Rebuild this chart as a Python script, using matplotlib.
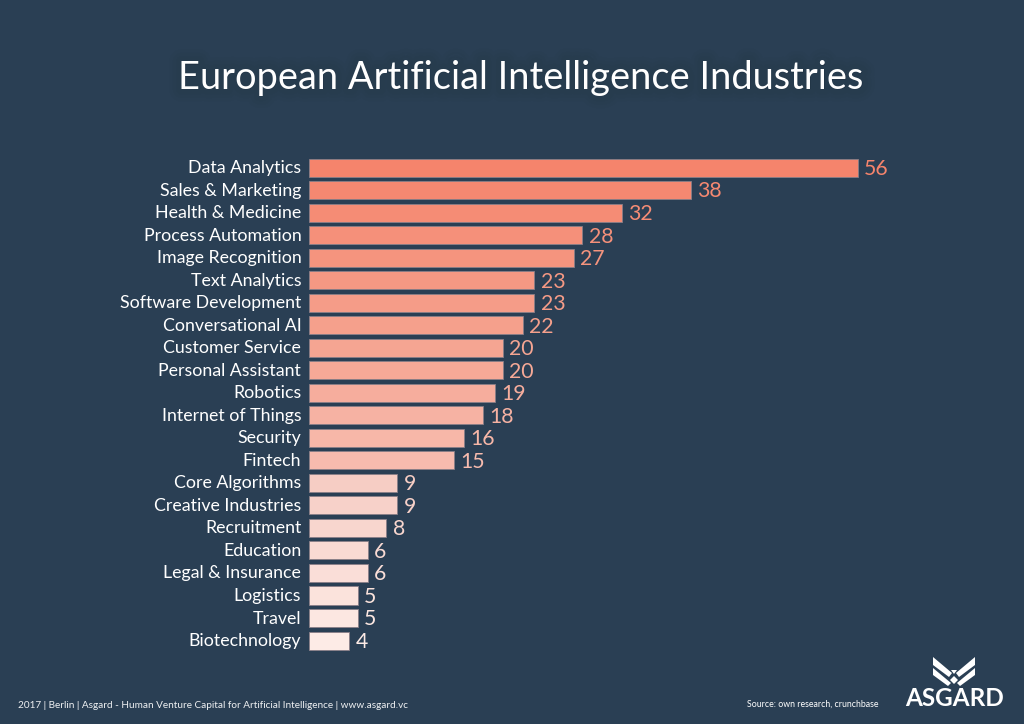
import matplotlib
matplotlib.use("Agg")
import matplotlib.patheffects as pe
import matplotlib.pyplot as plt
from matplotlib.colors import LinearSegmentedColormap
from matplotlib.patches import Polygon
from matplotlib.transforms import ScaledTranslation

W, H = 1024, 724
BG = "#2A3F54"
TEXT = "#FFFFFF"
TITLE = "European Artificial Intelligence Industries"

industries = [
    "Data Analytics", "Sales & Marketing", "Health & Medicine",
    "Process Automation", "Image Recognition", "Text Analytics",
    "Software Development", "Conversational AI", "Customer Service",
    "Personal Assistant", "Robotics", "Internet of Things", "Security",
    "Fintech", "Core Algorithms", "Creative Industries", "Recruitment",
    "Education", "Legal & Insurance", "Logistics", "Travel", "Biotechnology",
]
counts = [56, 38, 32, 28, 27, 23, 23, 22, 20, 20, 19, 18, 16, 15, 9, 9, 8, 6, 6, 5, 5, 4]
# bar lengths as measured: the picture draws them slightly off their labels (Sales & Marketing most)
bar_lengths = [56, 39, 31.9, 27.9, 27, 23, 23, 21.8, 19.8, 19.8, 19, 17.8, 15.8, 14.8, 9, 9, 7.9, 6, 6, 5, 5, 4.1]

plt.rcParams["font.family"] = ["Lato", "DejaVu Sans"]

fig = plt.figure(figsize=(W / 100, H / 100), dpi=100, facecolor=BG)

# bars start at x=309, 9.8 px per company; rows are 22.52 px apart
ax = fig.add_axes([309 / W, 1 - 651.8 / H, (W - 309) / W, (651.8 - 156.3) / H], facecolor="none")
ax.set_xlim(0, (W - 309) / 9.8)
ax.set_ylim(len(counts) - 0.5, -0.5)

ramp = LinearSegmentedColormap.from_list(
    "salmon",
    [(0, "#F5846C"), (0.33, "#F5A08C"), (0.62, "#F7BBAE"), (0.667, "#F6CDC4"), (1, "#FDEBE6")],
)
rows = range(len(counts))
bar_colors = [ramp(i / (len(counts) - 1)) for i in rows]
ax.barh(rows, bar_lengths, height=0.8, color=bar_colors, edgecolor="#8A7F88", linewidth=0.6)

ax.set_yticks(list(rows), industries, fontsize=12.75, color=TEXT)
ax.tick_params(axis="y", length=0, pad=5.5)
ax.set_xticks([])
for spine in ax.spines.values():
    spine.set_visible(False)

# nudge the category labels up a pixel
nudge = ScaledTranslation(0, 1 / 100, fig.dpi_scale_trans)
for label in ax.get_yticklabels():
    label.set_transform(label.get_transform() + nudge)

for i, value in enumerate(counts):
    ax.annotate(
        str(value), (bar_lengths[i], i), xytext=(4.5, -1), textcoords="offset points",
        va="center", ha="left", fontsize=15.3, color=bar_colors[i],
    )


def px(x, y):
    return x / W, 1 - y / H


# soft shadow behind the title, drawn separately so the title itself stays thin
glow = [pe.withStroke(linewidth=w, foreground="#1E2C3A", alpha=0.05) for w in (18, 13, 8)]
fig.text(*px(521, 78), TITLE, ha="center", va="center", fontsize=27.4, color="none", path_effects=glow)
fig.text(*px(521, 78), TITLE, ha="center", va="center", fontsize=27.4, color=TEXT)

fig.text(*px(18, 705), "2017 | Berlin | Asgard - Human Venture Capital for Artificial Intelligence | www.asgard.vc",
         ha="left", va="center", fontsize=7.2, color="#EEF0F2")
fig.text(*px(747, 704), "Source: own research, crunchbase", ha="left", va="center", fontsize=6.35, color=TEXT)
fig.text(*px(954.5, 699), "ASGARD", ha="center", va="center", fontsize=17.5, fontweight="bold", color=TEXT)

# logo wings, mirrored about x=954
LOGO_AXIS = 954
left_wing = [
    [(933, 657), (952, 673), (949, 677), (933, 665)],
    [(933, 668), (951, 683), (948, 686), (933, 675)],
]
logo_shapes = left_wing + [[(2 * LOGO_AXIS - x, y) for x, y in s] for s in left_wing] + [
    [(954, 676), (958, 680), (954, 684), (950, 680)],
    [(951, 670), (957, 670), (954, 674)],
]
for shape in logo_shapes:
    fig.add_artist(Polygon([px(x, y) for x, y in shape], closed=True, facecolor=TEXT,
                           edgecolor="none", transform=fig.transFigure))

fig.savefig("out.png", dpi=100, facecolor=BG)
